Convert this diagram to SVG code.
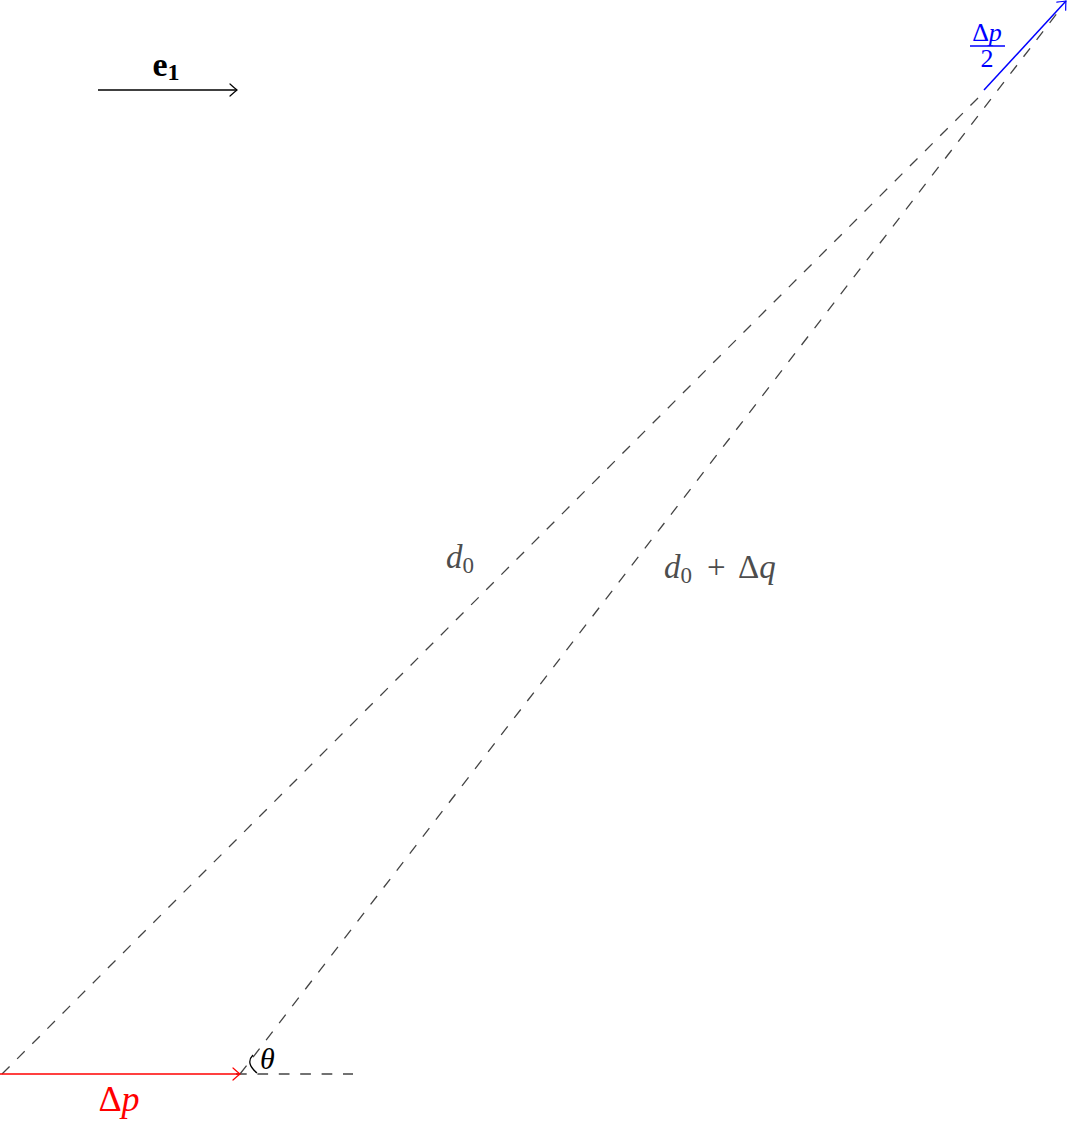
<svg xmlns="http://www.w3.org/2000/svg" width="1068" height="1129" viewBox="0 0 1068 1129">
<style>
.dash{stroke:#444;stroke-width:1.3;fill:none;stroke-dasharray:10.7 10.7}
.math{font-family:"Liberation Serif","DejaVu Serif",serif}
.it{font-style:italic}
.lbl{fill:#4d4d4d}
</style>
<defs>
<marker id="toK" markerUnits="userSpaceOnUse" markerWidth="14" markerHeight="16" viewBox="-10 -8 12 16" refX="0" refY="0" orient="auto">
<path d="M-7,-6 Q-2,-1.5 0,0 Q-2,1.5 -7,6" fill="none" stroke="#000" stroke-width="1.2" stroke-linecap="round"/>
</marker>
<marker id="toR" markerUnits="userSpaceOnUse" markerWidth="14" markerHeight="16" viewBox="-10 -8 12 16" refX="0" refY="0" orient="auto">
<path d="M-7,-6 Q-2,-1.5 0,0 Q-2,1.5 -7,6" fill="none" stroke="#f00" stroke-width="1.2" stroke-linecap="round"/>
</marker>
<marker id="toB" markerUnits="userSpaceOnUse" markerWidth="14" markerHeight="16" viewBox="-10 -8 12 16" refX="0" refY="0" orient="auto">
<path d="M-7,-6 Q-2,-1.5 0,0 Q-2,1.5 -7,6" fill="none" stroke="#00f" stroke-width="1.2" stroke-linecap="round"/>
</marker>
</defs>
<g id="connectors">
<line id="d0-line" class="dash" x1="2" y1="1074" x2="984" y2="92"/>
<line id="d0dq-line" class="dash" x1="240" y1="1074" x2="1058" y2="12"/>
<line id="baseline-ext" class="dash" x1="236" y1="1074" x2="353" y2="1074"/>
<line id="dp-arrow" x1="0" y1="1074" x2="240" y2="1074" stroke="#f00" stroke-width="1.3" marker-end="url(#toR)"/>
<line id="dp2-arrow" x1="984" y1="90" x2="1066" y2="1" stroke="#00f" stroke-width="1.5" marker-end="url(#toB)"/>
<line id="e1-arrow" x1="98" y1="90" x2="237" y2="90" stroke="#000" stroke-width="1.3" marker-end="url(#toK)"/>
<path id="theta-arc" d="M253,1055 Q245,1063 257,1073" fill="none" stroke="#000" stroke-width="1.3"/>
</g>
<g id="label-e1"><text class="math" x="166" y="76" font-size="34" font-weight="bold" text-anchor="middle">e<tspan font-size="24" dy="4">1</tspan></text></g>
<g id="label-d0"><text class="math lbl" x="446" y="568" font-size="33"><tspan class="it">d</tspan><tspan font-size="23" dy="5">0</tspan></text></g>
<g id="label-d0dq"><text class="math lbl" x="664" y="578" font-size="33"><tspan class="it">d</tspan><tspan font-size="23" dy="5">0</tspan><tspan x="707" dy="-5">+</tspan><tspan x="738">Δ</tspan><tspan class="it">q</tspan></text></g>
<g id="label-dp"><text class="math" x="119" y="1111" font-size="36" fill="#f00" text-anchor="middle">Δ<tspan class="it">p</tspan></text></g>
<g id="label-theta"><text class="math it" x="260" y="1069" font-size="30" fill="#000">θ</text></g>
<g id="label-dp2">
<text class="math" x="987" y="41" font-size="26" fill="#00f" text-anchor="middle">Δ<tspan class="it">p</tspan></text>
<line x1="970" y1="46" x2="1005" y2="46" stroke="#00f" stroke-width="1.3"/>
<text class="math" x="987" y="67" font-size="26" fill="#00f" text-anchor="middle">2</text>
</g>
</svg>
